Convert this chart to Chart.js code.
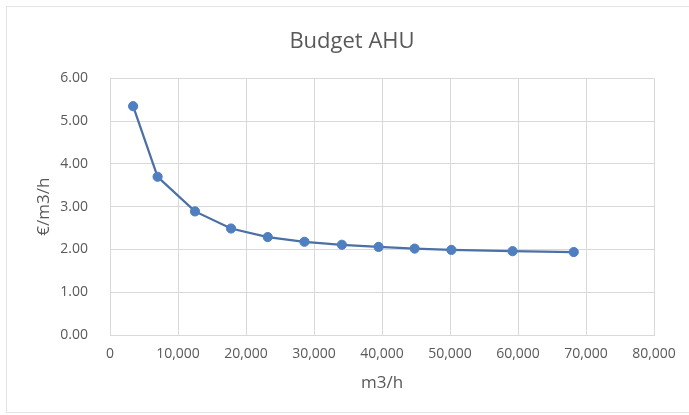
<!DOCTYPE html>
<html>
<head>
<meta charset="utf-8">
<script src="https://cdn.jsdelivr.net/npm/chart.js@4"></script>
<style>
  html, body { margin: 0; padding: 0; background: #ffffff; }
  #wrap { width: 689px; height: 415px; }
</style>
</head>
<body>
<div id="wrap"><canvas id="budget-chart" width="689" height="415"></canvas></div>
<script>
// Data
var flows = [3400, 7000, 12500, 17800, 23200, 28600, 34100, 39500, 44800, 50200, 59200, 68200];
var costs = [5.35, 3.70, 2.89, 2.49, 2.29, 2.18, 2.11, 2.06, 2.02, 1.99, 1.96, 1.94];
var xTicks = [0, 10000, 20000, 30000, 40000, 50000, 60000, 70000, 80000];
var yTicks = [0, 1, 2, 3, 4, 5, 6];

var points = flows.map(function (f, i) { return { x: f, y: costs[i] }; });

// Frame round the whole chart, and nudge the title to the middle of the frame
var framePlugin = {
    id: 'frame',
    afterLayout: function (chart) {
        var tb = chart.titleBlock;
        if (tb) { tb.left += 8; tb.right += 8; }
    },
    beforeDraw: function (chart) {
        var c = chart.ctx;
        c.save();
        c.fillStyle = '#ffffff';
        c.fillRect(0, 0, chart.width, chart.height);
        c.strokeStyle = '#e3e3e3';
        c.lineWidth = 1;
        c.strokeRect(6.5, 6.5, chart.width, chart.height - 9);
        c.restore();
    }
};

var font = "'Open Sans', 'DejaVu Sans', sans-serif";
var grey = '#595959';

var ctx = document.getElementById('budget-chart').getContext('2d');
var myChart = new Chart(ctx, {
    type: 'scatter',
    data: {
        datasets: [{
            label: 'Budget AHU',
            data: points,
            showLine: true,
            borderColor: '#4a70a6',
            borderWidth: 2.25,
            backgroundColor: '#4f7fc0',
            pointBackgroundColor: '#4f7fc0',
            pointBorderColor: '#4f7fc0',
            pointBorderWidth: 1,
            pointRadius: 4.6,
            tension: 0
        }]
    },
    options: {
        responsive: false,
        animation: false,
        layout: { padding: { top: 6, left: 34, right: 35, bottom: 22 } },
        plugins: {
            legend: { display: false },
            tooltip: { enabled: false },
            title: {
                display: true,
                text: 'Budget AHU',
                color: grey,
                font: { family: font, size: 22, weight: 'normal' },
                padding: { top: 23, bottom: 23 }
            }
        },
        scales: {
            x: {
                type: 'linear',
                min: 0,
                max: 80000,
                afterBuildTicks: function (scale) {
                    scale.ticks = xTicks.map(function (v) { return { value: v }; });
                },
                afterFit: function (scale) { scale.height = 58; },
                grid: { color: '#d9d9d9', drawTicks: false },
                border: { color: '#d9d9d9' },
                ticks: {
                    padding: 11,
                    color: grey,
                    font: { family: font, size: 14 },
                    maxRotation: 0,
                    callback: function (v) { return v.toLocaleString('en-US'); }
                },
                title: {
                    display: true,
                    text: 'm3/h',
                    color: grey,
                    font: { family: font, size: 17 },
                    padding: 0
                }
            },
            y: {
                type: 'linear',
                min: 0,
                max: 6,
                afterBuildTicks: function (scale) {
                    scale.ticks = yTicks.map(function (v) { return { value: v }; });
                },
                afterFit: function (scale) { scale.width = 76; },
                grid: { color: '#d9d9d9', drawTicks: false },
                border: { color: '#d9d9d9' },
                ticks: {
                    padding: 22,
                    color: grey,
                    font: { family: font, size: 14 },
                    callback: function (v) { return v.toFixed(2); }
                },
                title: {
                    display: true,
                    text: '€/m3/h',
                    color: grey,
                    font: { family: font, size: 17 },
                    padding: 0
                }
            }
        }
    },
    plugins: [framePlugin]
});
</script>
</body>
</html>
